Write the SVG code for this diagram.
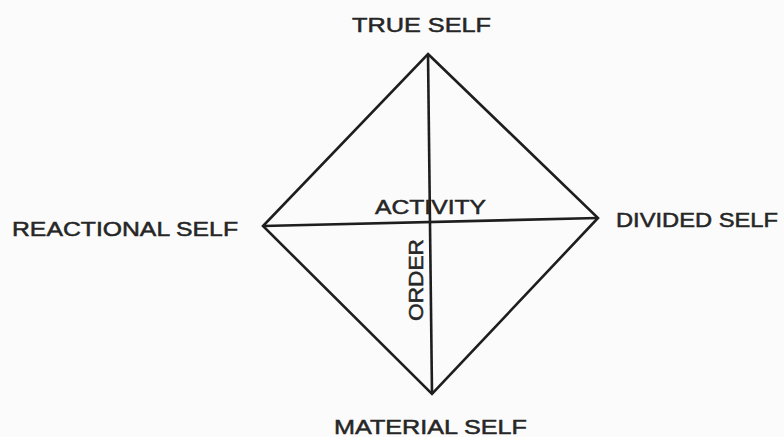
<svg xmlns="http://www.w3.org/2000/svg" width="784" height="437" viewBox="0 0 784 437">
<style>
text{font-family:"Liberation Sans","DejaVu Sans",sans-serif;fill:#262626;stroke:#262626;stroke-width:0.5;font-size:20px;}
.ln{stroke:#1e1e1e;stroke-width:2.6;fill:none;stroke-linejoin:miter;}
</style>
<rect width="784" height="437" fill="#fbfbfb"/>
<g id="connectors">
<path class="ln" d="M428,54 L598,218 L432,394 L263,226 Z"/>
<line class="ln" x1="428" y1="54" x2="432" y2="394"/>
<line class="ln" x1="263" y1="226" x2="598" y2="218"/>
</g>
<g id="true-self"><text x="352" y="32" textLength="139" lengthAdjust="spacingAndGlyphs">TRUE SELF</text></g>
<g id="reactional-self"><text x="12" y="236" textLength="226" lengthAdjust="spacingAndGlyphs">REACTIONAL SELF</text></g>
<g id="divided-self"><text x="616" y="227" textLength="162" lengthAdjust="spacingAndGlyphs">DIVIDED SELF</text></g>
<g id="material-self"><text x="334" y="434" textLength="193" lengthAdjust="spacingAndGlyphs">MATERIAL SELF</text></g>
<g id="activity"><text x="375" y="214" textLength="111" lengthAdjust="spacingAndGlyphs">ACTIVITY</text></g>
<g id="order"><text transform="translate(423,321) rotate(-90)" x="0" y="0" textLength="82" lengthAdjust="spacingAndGlyphs">ORDER</text></g>
</svg>
